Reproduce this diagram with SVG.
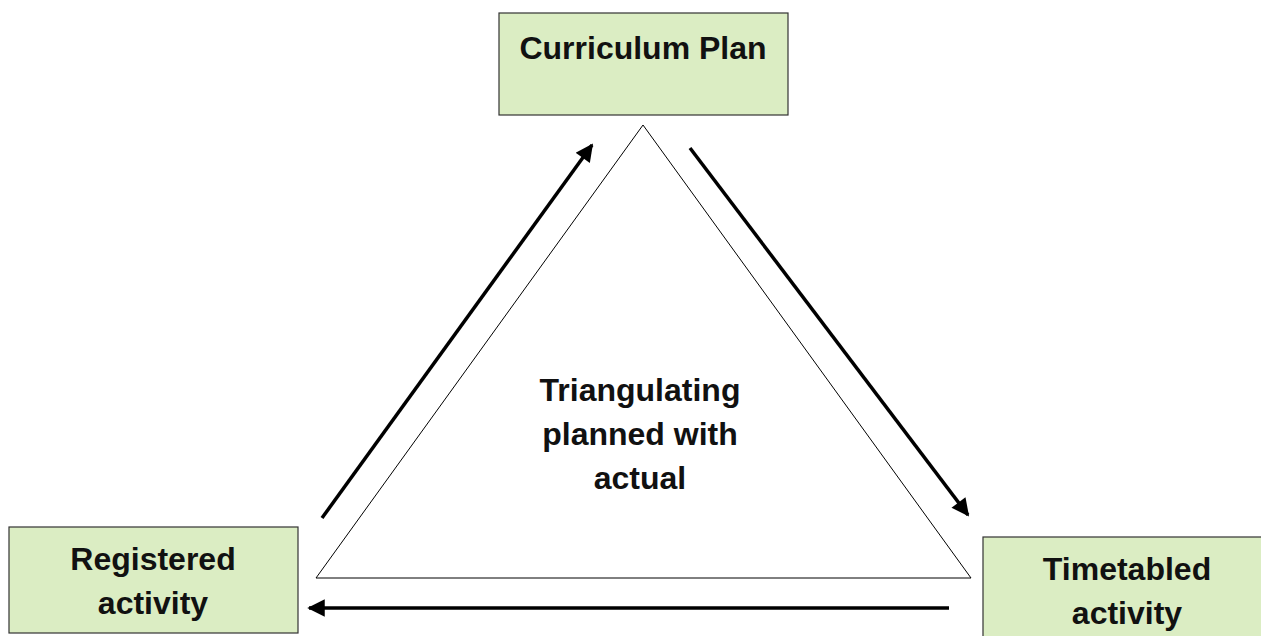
<svg xmlns="http://www.w3.org/2000/svg" width="1261" height="636" viewBox="0 0 1261 636">
<defs>
<style>
.box{fill:#dbedc3;stroke:#333;stroke-width:1.2}
.t{font-family:"Liberation Sans",Arial,sans-serif;font-weight:bold;font-size:32px;fill:#111;text-anchor:middle}
.arr{stroke:#000;stroke-width:3.5;fill:none;marker-end:url(#ah)}
</style>
<marker id="ah" viewBox="0 0 10 10" refX="9" refY="5" markerWidth="5.5" markerHeight="5" orient="auto" markerUnits="strokeWidth">
<path d="M0,0 L10,5 L0,10 z" fill="#000"/>
</marker>
</defs>
<rect width="1261" height="636" fill="#fff"/>
<g id="triangle">
<polygon points="643,125 316,578 971,578" fill="none" stroke="#000" stroke-width="1"/>
<text class="t" x="640" y="401">Triangulating</text>
<text class="t" x="640" y="445">planned with</text>
<text class="t" x="640" y="489">actual</text>
</g>
<g id="curriculum-plan">
<rect class="box" x="499" y="13" width="289" height="102"/>
<text class="t" x="643" y="59">Curriculum Plan</text>
</g>
<g id="registered-activity">
<rect class="box" x="9" y="527" width="289" height="106"/>
<text class="t" x="153" y="570">Registered</text>
<text class="t" x="153" y="614">activity</text>
</g>
<g id="timetabled-activity">
<rect class="box" x="983" y="537" width="290" height="110"/>
<text class="t" x="1127" y="580">Timetabled</text>
<text class="t" x="1127" y="624">activity</text>
</g>
<g id="connectors">
<line class="arr" x1="322" y1="518" x2="592" y2="145"/>
<line class="arr" x1="690" y1="148" x2="968" y2="515"/>
<line class="arr" x1="949" y1="608" x2="309" y2="608"/>
</g>
</svg>
